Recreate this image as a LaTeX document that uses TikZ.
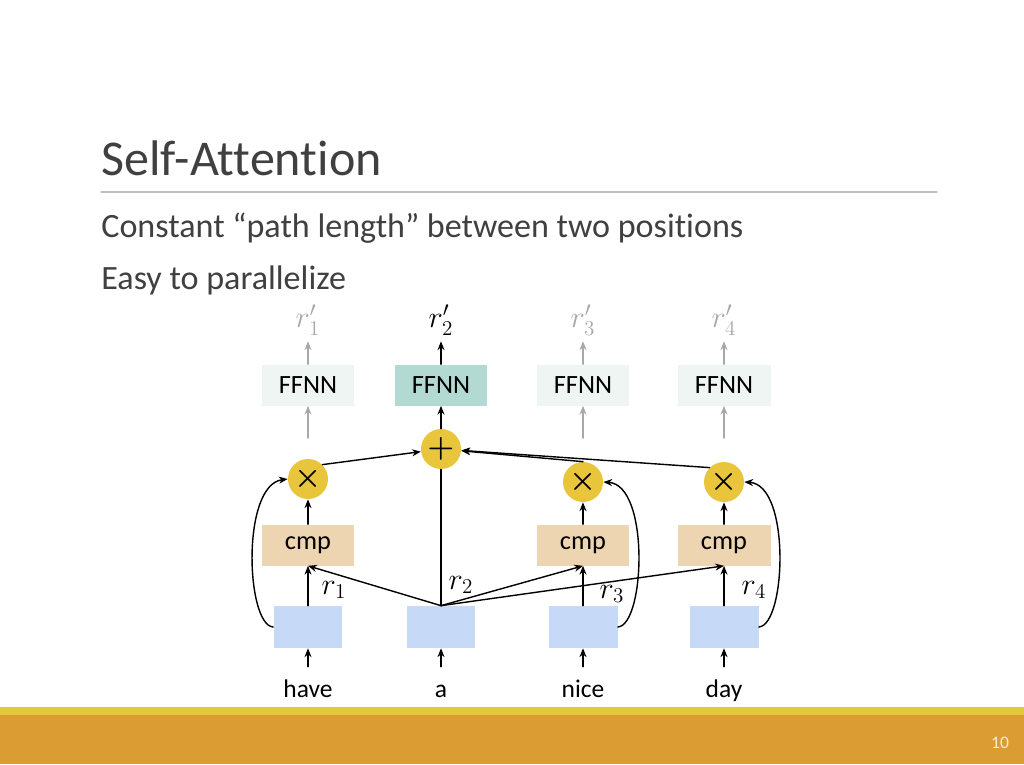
\documentclass[tikz,border=0pt]{standalone}
\usepackage{fontspec}
\setmainfont{Carlito}[Ligatures=NoCommon]
\usetikzlibrary{arrows.meta}
\definecolor{txtgray}{HTML}{404040}
\definecolor{rulegray}{HTML}{BFBFBF}
\definecolor{embblue}{HTML}{C6DAF7}
\definecolor{cmptan}{HTML}{EED5B2}
\definecolor{opyellow}{HTML}{E8C53B}
\definecolor{ffnnteal}{HTML}{B3D9D3}
\definecolor{ffnnpale}{HTML}{EEF5F3}
\definecolor{fadegray}{HTML}{A8A8A8}
\definecolor{barstripe}{HTML}{E6C63C}
\definecolor{barorange}{HTML}{DB9D33}
\definecolor{pagenum}{HTML}{F8EBD0}
\begin{document}
\begin{tikzpicture}[x=0.02cm, y=-0.02cm, font=\fontsize{14.5}{16}\selectfont, line join=round, line cap=round, >={Stealth[length=5pt,width=4pt]},
	embbox/.style={fill=embblue, minimum width=1.38cm, minimum height=0.84cm, inner sep=0},
	cmpbox/.style={fill=cmptan, minimum width=1.86cm, minimum height=0.82cm, inner sep=0, font=\fontsize{15}{16}\selectfont},
	ffnnbox/.style={minimum width=1.86cm, minimum height=0.82cm, inner sep=0, font=\fontsize{15}{16}\selectfont},
	opcirc/.style={circle, fill=opyellow, minimum size=0.8cm, inner sep=0, font=\fontsize{18}{20}\selectfont\boldmath},
	word/.style={anchor=base, text height=17pt, text depth=0pt, inner sep=0},
	mlabel/.style={font=\fontsize{17}{18}\selectfont},
	link/.style={line width=0.8pt},
	faded/.style={fadegray, line width=0.8pt}]
			
			\fill[white] (0,0) rectangle (1024,764);
			%\draw[gray!20] (0,0) grid[step=1cm] (1024,764);
			\node[anchor=base west, inner sep=0, text=txtgray, font=\fontsize{28.5}{30}\selectfont] (title) at (101,175) {Self-Attention};
			\draw[rulegray, line width=0.6pt] (101,192) -- (937,192);
			\node[anchor=base west, inner sep=0, text=txtgray, font=\fontsize{19.4}{21}\selectfont] (pt1) at (101,237) {Constant “path length” between two positions};
			\node[anchor=base west, inner sep=0, text=txtgray, font=\fontsize{19.4}{21}\selectfont] (pt2) at (101,289) {Easy to parallelize};
			
			\node[word] (w1) at (308,697) {have};
			\node[word] (w2) at (441,697) {a};
			\node[word] (w3) at (583,697) {nice};
			\node[word] (w4) at (724,697) {day};
			
			\node[embbox] (e1) at (308,627) {};
			\node[embbox] (e2) at (441,627) {};
			\node[embbox] (e3) at (583,627) {};
			\node[embbox] (e4) at (724,627) {};
			
			\node[cmpbox] (c1) at (308,545) {cmp};
			\node[cmpbox] (c3) at (583,545) {cmp};
			\node[cmpbox] (c4) at (724,545) {cmp};
			
			\node[opcirc] (m1) at (308,479) {$\times$};
			\node[opcirc] (m3) at (583,482) {$\times$};
			\node[opcirc] (m4) at (724,482) {$\times$};
			\node[opcirc] (sum) at (441,449) {$+$};
			
			\node[ffnnbox, fill=ffnnpale] (f1) at (308,385) {FFNN};
			\node[ffnnbox, fill=ffnnteal] (f2) at (441,385) {FFNN};
			\node[ffnnbox, fill=ffnnpale] (f3) at (583,385) {FFNN};
			\node[ffnnbox, fill=ffnnpale] (f4) at (724,385) {FFNN};
			
			\node[mlabel, text=fadegray] (o1) at (308,320) {$r'_1$};
			\node[mlabel] (o2) at (441,320) {$r'_2$};
			\node[mlabel, text=fadegray] (o3) at (583,320) {$r'_3$};
			\node[mlabel, text=fadegray] (o4) at (724,320) {$r'_4$};
			
			\coordinate (g1) at (308,438);
			\coordinate (g3) at (583,438);
			\coordinate (g4) at (724,438);
			
			\node[mlabel] (l1) at (334,590) {$r_1$};
			\node[mlabel] (l2) at (461,585) {$r_2$};
			\node[mlabel] (l3) at (612,594) {$r_3$};
			\node[mlabel] (l4) at (754,590) {$r_4$};
			
			\draw[link,->] (w1) -- (e1);
			\draw[link,->] (w2) -- (e2);
			\draw[link,->] (w3) -- (e3);
			\draw[link,->] (w4) -- (e4);
			\draw[link,->] (e1) -- (c1);
			\draw[link,->] (e3) -- (c3);
			\draw[link,->] (e4) -- (c4);
			\draw[link,->] (c1) -- (m1);
			\draw[link,->] (c3) -- (m3);
			\draw[link,->] (c4) -- (m4);
			\draw[link,->] (e2.north) -- (c1.south);
			\draw[link,->] (e2.north) -- (c3.south);
			\draw[link,->] (e2.north) -- (c4.south);
			\draw[link] (e2.north) -- (sum.south);
			\draw[link,->] (e1.west) .. controls (246,625) and (241,485) .. (m1.west);
			\draw[link,->] (e3.east) .. controls (645,625) and (650,485) .. (m3.east);
			\draw[link,->] (e4.east) .. controls (786,625) and (791,485) .. (m4.east);
			\draw[link,->] (m1.north east) -- (sum);
			\draw[link,->] (m3.north) -- (sum);
			\draw[link,->] (m4.north west) -- (sum);
			\draw[link,->] (sum) -- (f2);
			\draw[link,->] (f2) -- (o2);
			\draw[faded,->] (g1) -- (f1);
			\draw[faded,->] (g3) -- (f3);
			\draw[faded,->] (g4) -- (f4);
			\draw[faded,->] (f1) -- (o1);
			\draw[faded,->] (f3) -- (o3);
			\draw[faded,->] (f4) -- (o4);
			
			\fill[barstripe] (0,707) rectangle (1024,715);
			\fill[barorange] (0,715) rectangle (1024,764);
			\node[text=pagenum, font=\fontsize{10}{12}\selectfont] (pg) at (1000,743) {10};
	\end{tikzpicture}
\end{document}
